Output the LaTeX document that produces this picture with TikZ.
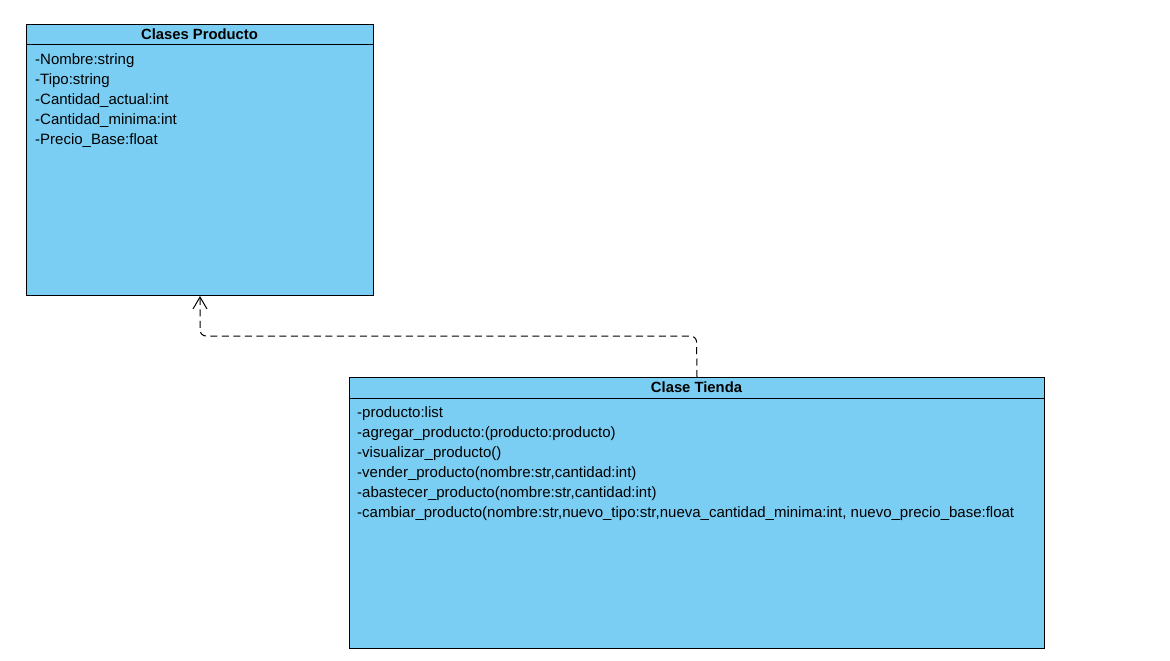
\documentclass[tikz,border=0pt]{standalone}
\usepackage{fontspec}
\setmainfont{Liberation Sans}
\usetikzlibrary{arrows.meta}
\definecolor{azulclase}{HTML}{7ACEF3}
\begin{document}
\begin{tikzpicture}[x=1pt,y=-1pt,
    clase/.style={draw,fill=azulclase,line width=1pt,anchor=north west,inner sep=0pt},
    titulo/.style={font=\fontsize{14.8}{17}\selectfont\bfseries,anchor=base},
    miembro/.style={font=\fontsize{15}{17}\selectfont,anchor=base west,inner sep=0pt},
    depende/.style={line width=1pt,dash pattern=on 7pt off 4.5pt,rounded corners=6pt,-{Straight Barb[length=12pt,width=14pt]}}]
    \useasboundingbox (0,0) rectangle (1170,661);
    % clase producto
    \node[clase,minimum width=347pt,minimum height=271pt] (producto) at (26,24) {};
    \node[titulo] (productoT) at (199.5,39.5) {Clases Producto};
    \draw[line width=1pt] ([yshift=-21pt]producto.north west) -- ([yshift=-21pt]producto.north east);
    \foreach \m [count=\i] in {-Nombre:string,-Tipo:string,-Cantidad\_actual:int,-Cantidad\_minima:int,-Precio\_Base:float}
        \node[miembro] (productoM\i) at (35,44.5+20*\i) {\m};
    % clase tienda
    \node[clase,minimum width=695pt,minimum height=271pt] (tienda) at (349,377) {};
    \node[titulo] (tiendaT) at (696.5,392.5) {Clase Tienda};
    \draw[line width=1pt] ([yshift=-21pt]tienda.north west) -- ([yshift=-21pt]tienda.north east);
    \foreach \m [count=\i] in {-producto:list,-agregar\_producto:(producto:producto),-visualizar\_producto(),
        {-vender\_producto(nombre:str,cantidad:int)},{-abastecer\_producto(nombre:str,cantidad:int)},
        {-cambiar\_producto(nombre:str,nuevo\_tipo:str,nueva\_cantidad\_minima:int, nuevo\_precio\_base:float}}
        \node[miembro] (tiendaM\i) at (357,397.5+20*\i) {\m};
    % dependencia
    \coordinate (codo) at (696.5,336);
    \draw[depende] (tienda.north) -- (codo) -| (producto.south);
\end{tikzpicture}
\end{document}
